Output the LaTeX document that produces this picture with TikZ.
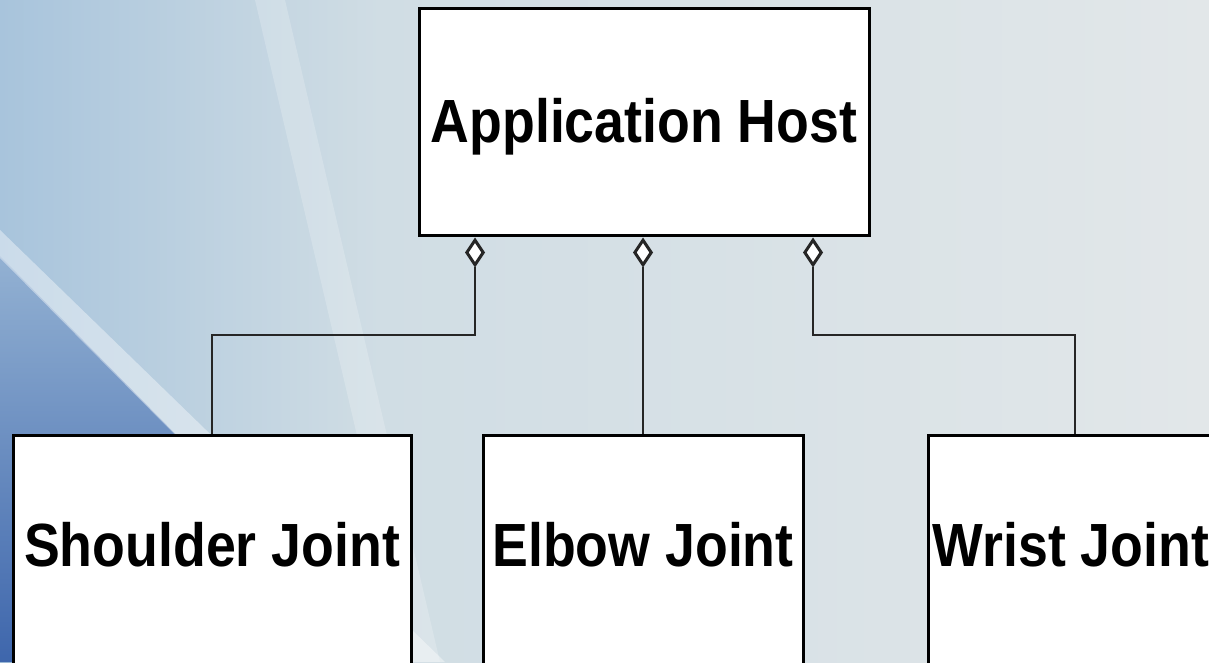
\documentclass[tikz,border=0pt]{standalone}
\usepackage{fontspec}
\setmainfont{Liberation Sans}
\usepackage{xcolor}
\usepackage{graphicx}
\usepackage{tikz}
\usetikzlibrary{positioning,arrows.meta}

\definecolor{bgblue}{RGB}{168,196,220}
\definecolor{bgmid}{RGB}{208,221,228}
\definecolor{bggray}{RGB}{226,231,233}
\definecolor{bgdeep}{RGB}{62,102,172}
\newcommand{\narrowlabel}[1]{\scalebox{0.88}[1]{#1}}

\begin{document}
\begin{tikzpicture}[x=1pt, y=1pt,
    classbox/.style={draw, line width=3pt, fill=white, inner sep=0pt,
        font=\bfseries\fontsize{61}{61}\selectfont},
    jointbox/.style={classbox, minimum height=240pt, text height=44pt, text depth=22pt},
    aggr/.style={black!85, line width=1.2pt,
        -{Diamond[fill=white, length=30pt, width=20pt, line width=3pt]}}]

\useasboundingbox (0,0) rectangle (1209,662);
\clip (0,0) rectangle (1209,662);
\shade[left color=bgblue, right color=bgmid] (0,0) rectangle (380,662);
\shade[left color=bgmid, right color=bggray] (380,0) rectangle (1209,662);
\fill[white, opacity=.2] (255,662) -- (285,662) -- (440,0) -- (410,0) -- cycle;
\shade[bottom color=bgdeep, top color=bgblue!80!bgdeep] (0,0) -- (0,406) -- (400,0) -- cycle;
\fill[white, opacity=.4] (0,432) -- (0,404) -- (400,0) -- (445,0) -- cycle;

\node[classbox, minimum width=450pt, minimum height=227pt, text height=44pt, text depth=3pt] (host) at (644,539.5) {\narrowlabel{Application Host}};

\node[jointbox, minimum width=398pt] (shoulder) at (212,107) {\narrowlabel{Shoulder Joint}};
\node[jointbox, minimum width=320pt] (elbow) at (643,107) {\narrowlabel{Elbow Joint}};
\node[jointbox, minimum width=286pt] (wrist) at (1071,107) {\narrowlabel{Wrist Joint}};

\draw[aggr] (shoulder.north) -- ++(0,98.5) -| ([xshift=-169pt]host.south);
\draw[aggr] (elbow.north) -- (host.south -| elbow.north);
\draw[aggr] ([xshift=4pt]wrist.north) -- ++(0,98.5) -| ([xshift=169pt]host.south);

\end{tikzpicture}
\end{document}
